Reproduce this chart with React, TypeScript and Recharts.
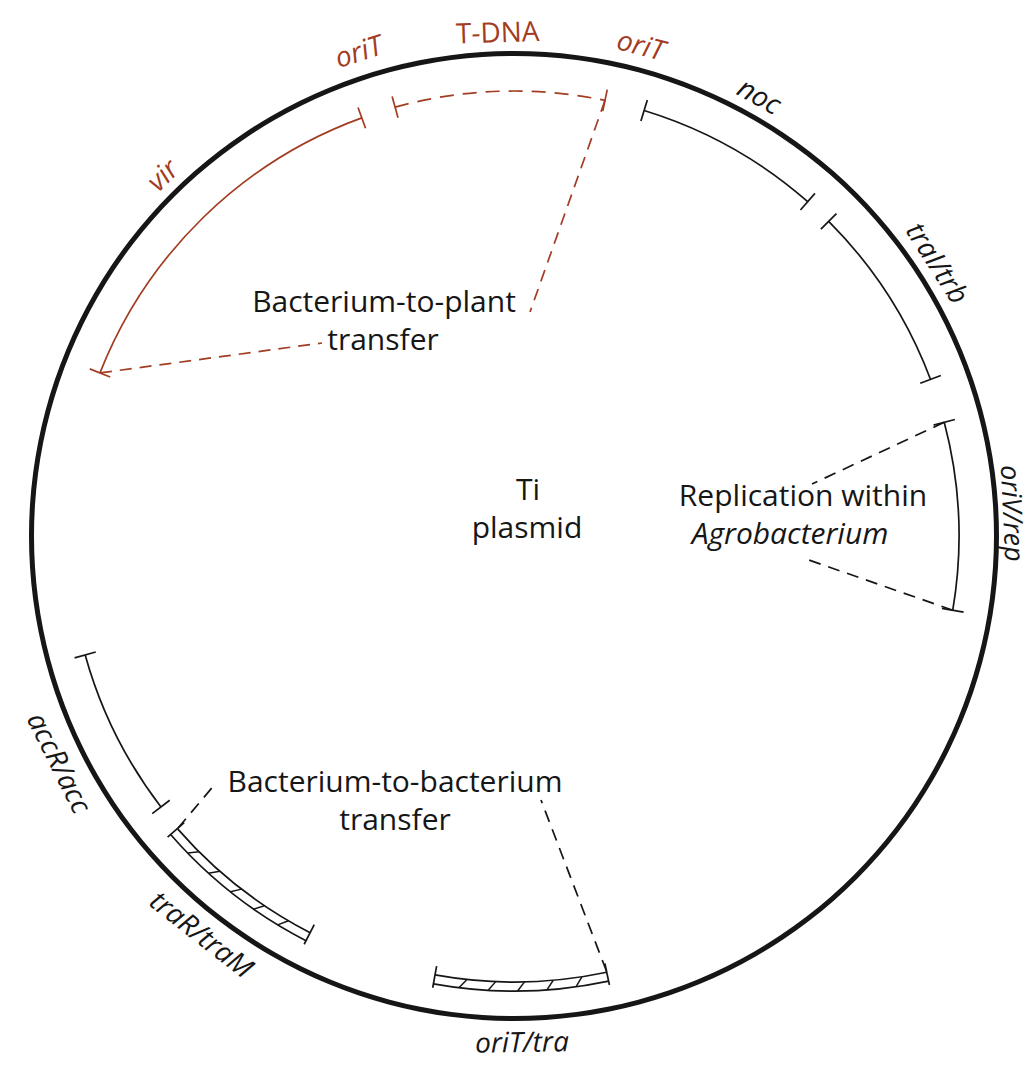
import React from 'react'
import { PieChart, Pie } from 'recharts'

// Ti plasmid map. Positions in degrees round the circle, 0 = 9 o'clock, running clockwise
const featureNames = ['vir', 'T-DNA', 'noc', 'traI/trb', 'oriV/rep', 'oriT/tra', 'traR/traM', 'accR/acc']
const featureStarts = [21.5, 74.5, 107, 135, 165.2, 258, 297.2, 322.5]
const featureEnds = [70, 101.8, 131.3, 159.4, 189.6, 280.2, 319, 344.5]
const backbone = [{ name: 'Ti plasmid', value: 360 }]

const RED = '#a23c22'
const INK = '#161616'
const FONT = "'Open Sans', sans-serif"
const CX = 514
const CY = 536
const ARC_R = 445
const LABEL_R = 505
const RAD = Math.PI / 180

const featureLook: Record<string, { color: string; kind: 'solid' | 'dashed' | 'hatched' }> = {
  'vir': { color: RED, kind: 'solid' },
  'T-DNA': { color: RED, kind: 'dashed' },
  'noc': { color: INK, kind: 'solid' },
  'traI/trb': { color: INK, kind: 'solid' },
  'oriV/rep': { color: INK, kind: 'solid' },
  'oriT/tra': { color: INK, kind: 'hatched' },
  'traR/traM': { color: INK, kind: 'hatched' },
  'accR/acc': { color: INK, kind: 'solid' },
}

// small radial nudges so names near the page edge stay on the page
const labelNudge: Record<string, number> = { 'oriV/rep': -5, 'accR/acc': 2 }
const labelSize: Record<string, number> = { 'oriV/rep': 27 }

// dashed leader lines from an arc end to the note text
const leaders: Record<string, { at: 'start' | 'end'; x: number; y: number }[]> = {
  'vir': [{ at: 'start', x: 322, y: 343 }],
  'T-DNA': [{ at: 'end', x: 530, y: 312 }],
  'oriV/rep': [{ at: 'start', x: 812, y: 484 }, { at: 'end', x: 806, y: 559 }],
  'oriT/tra': [{ at: 'start', x: 541, y: 800 }],
  'traR/traM': [{ at: 'end', x: 216, y: 783 }],
}

const notes: Record<string, { x: number; y: number; lines: { text: string; dx: number; italic?: boolean }[] }> = {
  'T-DNA': { x: 384, y: 300, lines: [{ text: 'Bacterium-to-plant', dx: 0 }, { text: 'transfer', dx: -1 }] },
  'oriV/rep': { x: 803, y: 494, lines: [{ text: 'Replication within', dx: 0 }, { text: 'Agrobacterium', dx: -13, italic: true }] },
  'oriT/tra': { x: 395, y: 780, lines: [{ text: 'Bacterium-to-bacterium', dx: 0 }, { text: 'transfer', dx: 0 }] },
}

type Seg = { name: string; value: number; feature: boolean }
const segments: Seg[] = []
let cursor = 0
featureNames.forEach((name, i) => {
  if (featureStarts[i] > cursor) segments.push({ name: `gap${i}`, value: featureStarts[i] - cursor, feature: false })
  segments.push({ name, value: featureEnds[i] - featureStarts[i], feature: true })
  cursor = featureEnds[i]
})
if (cursor < 360) segments.push({ name: 'gapEnd', value: 360 - cursor, feature: false })

const pt = (cx: number, cy: number, r: number, a: number) => [cx + r * Math.cos(a * RAD), cy - r * Math.sin(a * RAD)]

const arcPath = (cx: number, cy: number, r: number, a0: number, a1: number) => {
  const [x0, y0] = pt(cx, cy, r, a0)
  const [x1, y1] = pt(cx, cy, r, a1)
  const large = Math.abs(a0 - a1) > 180 ? 1 : 0
  const sweep = a0 > a1 ? 1 : 0
  return `M${x0},${y0} A${r},${r} 0 ${large} ${sweep} ${x1},${y1}`
}

const tick = (cx: number, cy: number, r0: number, r1: number, a: number, color: string, key: string) => {
  const [x0, y0] = pt(cx, cy, r0, a)
  const [x1, y1] = pt(cx, cy, r1, a)
  return <line key={key} x1={x0} y1={y0} x2={x1} y2={y1} stroke={color} strokeWidth={1.7} />
}

const ringText = (cx: number, cy: number, r: number, a: number, text: string, color: string, italic: boolean, key: string, size = 28) => {
  const [x, y] = pt(cx, cy, r, a)
  const bearing = (((90 - a) % 360) + 360) % 360
  const rot = bearing > 90 && bearing < 270 ? bearing - 180 : bearing
  return (
    <text key={key} x={x} y={y} transform={`rotate(${rot} ${x} ${y})`} textAnchor="middle" dominantBaseline="central"
      fill={color} fontSize={size} fontStyle={italic ? 'italic' : 'normal'} fontFamily={FONT}>
      {text}
    </text>
  )
}

const FeatureMark = (props: any) => {
  const { cx, cy, startAngle, endAngle, midAngle, index } = props
  const seg = segments[index]
  if (!seg || !seg.feature) return null
  const look = featureLook[seg.name]
  const parts: React.ReactNode[] = []

  if (look.kind === 'hatched') {
    const rIn = ARC_R + 1
    const rOut = ARC_R + 10
    parts.push(<path key="in" d={arcPath(cx, cy, rIn, startAngle, endAngle)} fill="none" stroke={look.color} strokeWidth={1.7} />)
    parts.push(<path key="out" d={arcPath(cx, cy, rOut, startAngle, endAngle)} fill="none" stroke={look.color} strokeWidth={1.7} />)
    for (let k = 1; k <= 5; k++) {
      const a = startAngle + ((endAngle - startAngle) * k) / 6
      const [x0, y0] = pt(cx, cy, rOut, a - 0.45)
      const [x1, y1] = pt(cx, cy, rIn, a + 0.45)
      parts.push(<line key={`h${k}`} x1={x0} y1={y0} x2={x1} y2={y1} stroke={look.color} strokeWidth={1.5} />)
    }
    parts.push(tick(cx, cy, rIn - 9, rOut + 4, startAngle, look.color, 't0'))
    parts.push(tick(cx, cy, rIn - 9, rOut + 4, endAngle, look.color, 't1'))
  } else {
    parts.push(
      <path key="arc" d={arcPath(cx, cy, ARC_R, startAngle, endAngle)} fill="none" stroke={look.color}
        strokeWidth={1.7} strokeDasharray={look.kind === 'dashed' ? '14 9' : undefined} />
    )
    parts.push(tick(cx, cy, ARC_R - 11, ARC_R + 11, startAngle, look.color, 't0'))
    parts.push(tick(cx, cy, ARC_R - 11, ARC_R + 11, endAngle, look.color, 't1'))
  }

  ;(leaders[seg.name] || []).forEach((l, i) => {
    const [x0, y0] = pt(cx, cy, ARC_R, l.at === 'start' ? startAngle : endAngle)
    parts.push(<line key={`l${i}`} x1={x0} y1={y0} x2={l.x} y2={l.y} stroke={look.color} strokeWidth={1.7} strokeDasharray="12 8" />)
  })

  const note = notes[seg.name]
  if (note) {
    parts.push(
      <text key="note" x={note.x} y={note.y} textAnchor="middle" dominantBaseline="central" fill={INK}
        fontSize={30} fontFamily={FONT}>
        {note.lines.map((ln, i) => (
          <tspan key={i} x={note.x + ln.dx} dy={i === 0 ? 0 : 38} fontStyle={ln.italic ? 'italic' : 'normal'}>
            {ln.text}
          </tspan>
        ))}
      </text>
    )
  }

  const r = LABEL_R + (labelNudge[seg.name] || 0)
  if (seg.name === 'T-DNA') {
    parts.push(ringText(cx, cy, r, midAngle, 'T-DNA', RED, false, 'name'))
    parts.push(ringText(cx, cy, r + 5, startAngle + 2.3, 'oriT', RED, true, 'o1'))
    parts.push(ringText(cx, cy, r + 3, endAngle - 2.7, 'oriT', RED, true, 'o2'))
  } else {
    parts.push(ringText(cx, cy, r, midAngle, seg.name, look.color, true, 'name', labelSize[seg.name]))
  }

  return <g>{parts}</g>
}

const CentreLabel = (props: any) => {
  const { cx, cy } = props
  return (
    <text x={cx + 14} y={cy - 48} fontFamily={FONT} fontSize={30} fill={INK} textAnchor="middle" dominantBaseline="central">
      <tspan x={cx + 14} dy={0}>Ti</tspan>
      <tspan x={cx + 13} dy={38}>plasmid</tspan>
    </text>
  )
}

export default function App() {
  return (
    <div style={{ position: 'absolute', left: 0, top: 0, width: 1033, height: 1068, background: '#fff' }}>
      <PieChart width={1033} height={1068} margin={{ top: 0, right: 0, bottom: 0, left: 0 }}>
        <Pie data={backbone} dataKey="value" nameKey="name" cx={CX} cy={CY} innerRadius={480} outerRadius={485}
          startAngle={90} endAngle={-270} fill={INK} stroke="none" label={CentreLabel} labelLine={false}
          isAnimationActive={false} />
        <Pie data={segments} dataKey="value" nameKey="name" cx={CX} cy={CY} innerRadius={ARC_R} outerRadius={ARC_R}
          startAngle={180} endAngle={-180} fill="none" stroke="none" label={FeatureMark} labelLine={false}
          isAnimationActive={false} />
      </PieChart>
    </div>
  )
}
